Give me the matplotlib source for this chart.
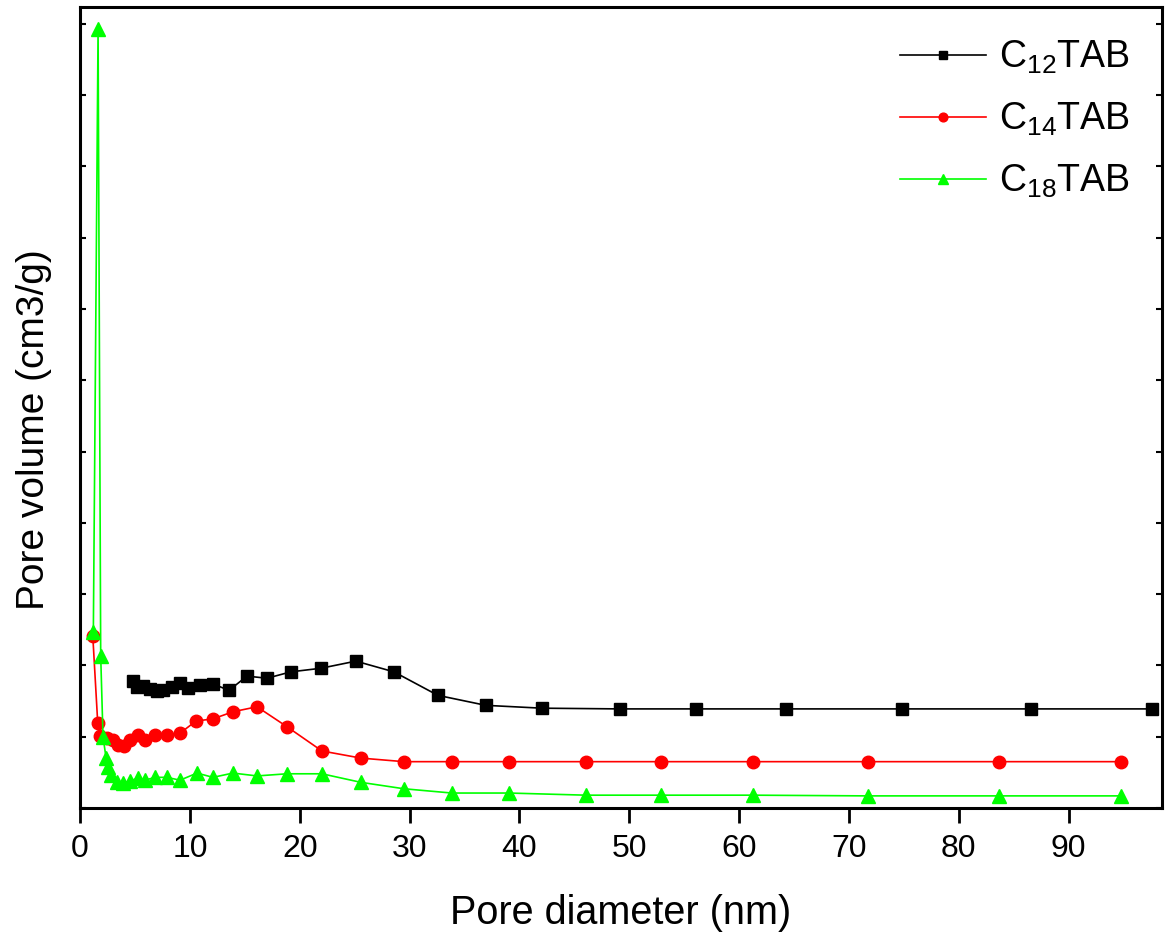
import matplotlib
matplotlib.use("Agg")
import matplotlib.pyplot as plt

plt.rcParams["font.family"] = ["Liberation Sans", "DejaVu Sans"]
plt.rcParams["mathtext.fontset"] = "custom"
plt.rcParams["mathtext.rm"] = "Liberation Sans"

# C12TAB
x_c12 = [4.82, 5.19, 5.73, 6.37, 7.01, 7.55, 8.37, 9.10, 9.83, 10.92, 12.10, 13.56,
         15.20, 17.02, 19.20, 21.93, 25.11, 28.57, 32.58, 36.94, 42.04, 49.14,
         56.05, 64.24, 74.80, 86.62, 97.60]
y_c12 = [0.178, 0.170, 0.171, 0.167, 0.164, 0.165, 0.170, 0.175, 0.168, 0.173, 0.174,
         0.165, 0.185, 0.182, 0.191, 0.196, 0.206, 0.191, 0.158, 0.144, 0.140, 0.139,
         0.139, 0.139, 0.139, 0.139, 0.139]

# C14TAB
x_c14 = [1.16, 1.61, 1.82, 2.43, 3.00, 3.46, 4.00, 4.55, 5.28, 5.91, 6.82, 7.92, 9.10,
         10.56, 12.10, 13.92, 16.11, 18.84, 22.02, 25.57, 29.48, 33.85, 39.04, 46.04,
         52.87, 61.24, 71.70, 83.62, 94.81]
y_c14 = [0.241, 0.119, 0.101, 0.098, 0.095, 0.088, 0.087, 0.095, 0.102, 0.095, 0.102,
         0.102, 0.105, 0.122, 0.125, 0.135, 0.142, 0.114, 0.080, 0.070, 0.065, 0.065,
         0.065, 0.065, 0.065, 0.065, 0.065, 0.065, 0.065]

# C18TAB
x_c18 = [1.21, 1.64, 1.88, 2.09, 2.37, 2.55, 2.82, 3.37, 3.91, 4.55, 5.28, 5.91, 6.82,
         7.92, 9.10, 10.65, 12.10, 13.92, 16.11, 18.84, 22.02, 25.57, 29.48, 33.85,
         39.04, 46.04, 52.87, 61.24, 71.70, 83.62, 94.81]
y_c18 = [0.247, 1.093, 0.213, 0.100, 0.070, 0.058, 0.046, 0.036, 0.035, 0.038, 0.042,
         0.039, 0.043, 0.043, 0.039, 0.049, 0.043, 0.049, 0.045, 0.048, 0.048, 0.036,
         0.027, 0.021, 0.021, 0.018, 0.018, 0.018, 0.017, 0.017, 0.017]

fig = plt.figure(figsize=(11.67, 9.39), dpi=100)
ax = fig.add_axes([0.0686, 0.1395, 0.9271, 0.853])

ax.plot(x_c12, y_c12, color="black", marker="s", markersize=8.5, linewidth=1.2,
        label=r"C$_\mathregular{12}$TAB")
ax.plot(x_c14, y_c14, color="#ff0000", marker="o", markersize=9, linewidth=1.2,
        label=r"C$_\mathregular{14}$TAB")
ax.plot(x_c18, y_c18, color="#00ff00", marker="^", markersize=9.5, linewidth=1.2,
        label=r"C$_\mathregular{18}$TAB")

ax.set_xlim(0, 98.5)
ax.set_ylim(0, 1.1234)
ax.set_xticks(range(0, 100, 10))
ax.set_yticks([i * 0.1 for i in range(12)])
ax.set_yticklabels([])

for s in ax.spines.values():
    s.set_linewidth(2.2)

ax.tick_params(axis="x", direction="out", length=11, width=2, labelsize=23, pad=7.5)
ax.tick_params(axis="y", direction="in", length=4, width=1.5, right=True)

ax.set_xlabel("Pore diameter (nm)", fontsize=28.5, labelpad=22)
ax.set_ylabel("Pore volume (cm3/g)", fontsize=28)
ax.yaxis.set_label_coords(-0.026, 0.472)

leg = ax.legend(loc="upper right", frameon=False, fontsize=27, markerscale=0.7,
                handlelength=2.3, handletextpad=0.35, labelspacing=0.66,
                borderaxespad=0.45)

fig.savefig("out.png", dpi=100)
